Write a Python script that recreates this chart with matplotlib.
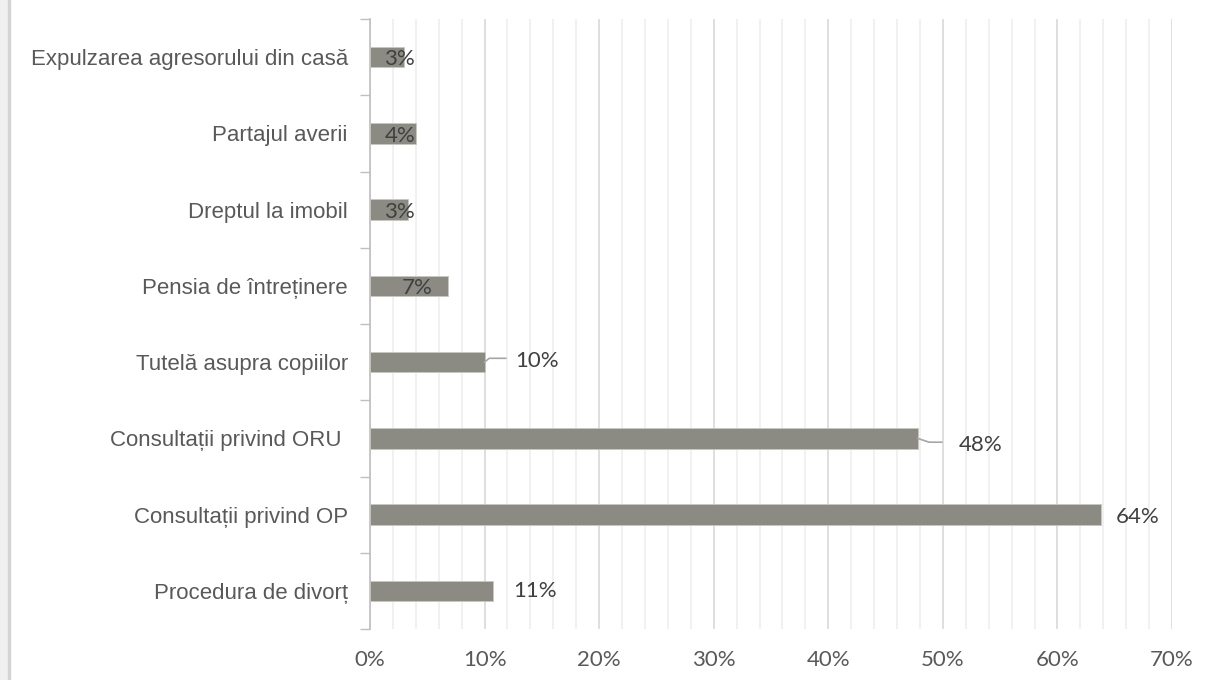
import matplotlib.pyplot as plt
from matplotlib.patches import Rectangle
from matplotlib.ticker import MultipleLocator, FuncFormatter

# categories listed bottom -> top
categories = ["Procedura de divorț", "Consultații privind OP", "Consultații privind ORU ",
              "Tutelă asupra copiilor", "Pensia de întreținere", "Dreptul la imobil",
              "Partajul averii", "Expulzarea agresorului din casă"]
values = [10.7, 63.8, 47.8, 10.0, 6.8, 3.3, 4.0, 3.0]
labels = ["11%", "64%", "48%", "10%", "7%", "3%", "4%", "3%"]

text_col = "#595959"
bar_col = "#8b8b84"

fig = plt.figure(figsize=(12.1, 6.8), dpi=100)
fig.patches.append(Rectangle((0, 0), 8 / 1210, 1, transform=fig.transFigure,
                             color="#f0f0f0", zorder=0))
fig.patches.append(Rectangle((8 / 1210, 0), 1.5 / 1210, 1, transform=fig.transFigure,
                             color="#d4d4d4", zorder=0))

ax = fig.add_axes([370 / 1210, 51 / 680, 802 / 1210, 610 / 680])
y = range(len(categories))
ax.barh(y, values, height=0.27, color=bar_col, edgecolor="#c8c8c2", linewidth=0.6, zorder=3)

ax.set_xlim(0, 70)
ax.set_ylim(-0.5, len(categories) - 0.5)
ax.xaxis.set_major_locator(MultipleLocator(10))
ax.xaxis.set_minor_locator(MultipleLocator(2))
ax.xaxis.set_major_formatter(FuncFormatter(lambda v, p: f"{v:.0f}%"))
ax.grid(axis="x", which="major", color="#d9d9d9", linewidth=1.2, zorder=0)
ax.grid(axis="x", which="minor", color="#efefef", linewidth=1.2, zorder=0)
ax.tick_params(axis="x", which="both", length=0, pad=15, labelsize=16, labelcolor=text_col)
for t in ax.get_xticklabels():
    t.set_family("Lato")

ax.set_yticks(list(y))
ax.set_yticklabels(categories, fontsize=16, color=text_col, family="Liberation Sans")
ax.set_yticks([i - 0.5 for i in range(len(categories) + 1)], minor=True)
ax.tick_params(axis="y", which="major", length=0, pad=16)
ax.tick_params(axis="y", which="minor", length=7, color="#bfbfbf", width=1)

for s in ["top", "right", "bottom"]:
    ax.spines[s].set_visible(False)
ax.spines["left"].set_color("#bfbfbf")
ax.spines["left"].set_linewidth(1.2)

# data labels
lab_kw = dict(va="center", fontsize=16, color="#404040", family="Lato", zorder=4)
for i, (v, lab) in enumerate(zip(values, labels)):
    if v < 8:
        ax.text(max(2.6, v * 0.6), i - 0.03, lab, ha="center", **lab_kw)
    elif lab == "10%":
        ax.plot([v, v + 0.4, v + 1.85], [i, i + 0.05, i + 0.05], color="#a6a6a6",
                linewidth=1.2, zorder=4)
        ax.text(v + 2.7, i + 0.01, lab, ha="left", **lab_kw)
    elif lab == "48%":
        ax.plot([v, v + 1.0, v + 2.1], [i, i - 0.05, i - 0.05], color="#a6a6a6",
                linewidth=1.2, zorder=4)
        ax.text(v + 3.6, i - 0.09, lab, ha="left", **lab_kw)
    else:
        dy = 0.0 if lab == "11%" else -0.03
        ax.text(v + (1.8 if lab == "11%" else 1.3), i + dy, lab, ha="left", **lab_kw)

fig.savefig("out.png", dpi=100)
